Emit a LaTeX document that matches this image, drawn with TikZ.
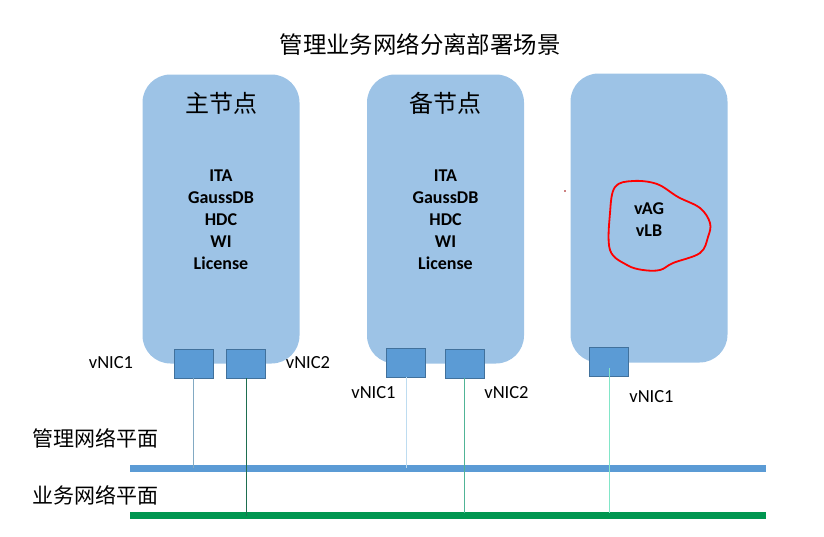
\documentclass[tikz,border=0pt]{standalone}
\usepackage{fontspec}
\setmainfont{Carlito}
\newfontfamily\cjk{Noto Sans CJK SC}
\usepackage{xcolor}
\usepackage{tikz}
\usetikzlibrary{positioning}
\definecolor{vmfill}{RGB}{157,195,230}
\definecolor{nicfill}{RGB}{91,155,213}
\definecolor{nicdraw}{RGB}{65,113,156}
\definecolor{mgmtbus}{RGB}{91,155,213}
\definecolor{svcbus}{RGB}{0,150,80}
\definecolor{linkA}{RGB}{130,170,195}
\definecolor{linkB}{RGB}{30,110,80}
\definecolor{linkC}{RGB}{190,220,240}
\definecolor{linkD}{RGB}{80,180,150}
\definecolor{linkE}{RGB}{130,230,200}
\tikzstyle{vm} = [rounded corners=28pt, fill=vmfill, minimum width=157pt, minimum height=289pt, inner sep=0pt]
\tikzstyle{nic} = [fill=nicfill, draw=nicdraw, line width=0.8pt, minimum width=39pt, minimum height=29pt, inner sep=0pt]
\tikzstyle{niclabel} = [font=\fontsize{18.5}{22}\selectfont]
\tikzstyle{vmtitle} = [font=\cjk\fontsize{24}{28}\selectfont]
\tikzstyle{svc} = [font=\fontsize{18}{22}\selectfont\bfseries, align=center]
\tikzstyle{plane} = [font=\cjk\fontsize{21}{24}\selectfont]
\tikzstyle{bus} = [line width=7pt]
\tikzstyle{link} = [line width=0.8pt]

\begin{document}
\begin{tikzpicture}[x=1pt, y=-1pt]
    \useasboundingbox (0,0) rectangle (824,536);
    \node[font=\cjk\fontsize{23.4}{28}\selectfont] (title) at (420,44) {管理业务网络分离部署场景};

    % the three virtual machines
    \node[vm] (vm1) at (221,219) {};
    \node[vm] (vm2) at (445.5,219) {};
    \node[vm] (vm3) at (649,218) {};
    \node[vmtitle] (t1) at (221,103) {主节点};
    \node[vmtitle] (t2) at (445.5,103) {备节点};
    \node[svc] (s1) at (221,220) {ITA\\GaussDB\\HDC\\WI\\License};
    \node[svc] (s2) at (445.5,220) {ITA\\GaussDB\\HDC\\WI\\License};
    \node[svc] (s3) at (649,219.5) {vAG\\vLB};
    \draw[red, line width=1.8pt] plot[smooth cycle, tension=0.6] coordinates {
        (633,181) (657,184) (678,197) (700,208) (710,223) (708,237) (700,253)
        (673,263) (660,270) (643,270) (627,265) (610,250) (610,213) (615,187)};
    \fill[red!60!black] (565,191) circle (0.9);

    % network cards
    \node[nic] (nic11) at (193.5,363.5) {};
    \node[nic] (nic12) at (246,363.5) {};
    \node[nic] (nic21) at (406,362.5) {};
    \node[nic] (nic22) at (464.5,363.5) {};
    \node[nic] (nic31) at (609,362) {};
    \node[niclabel] (l11) at (111,363) {vNIC1};
    \node[niclabel] (l12) at (308,363) {vNIC2};
    \node[niclabel] (l21) at (373.5,393) {vNIC1};
    \node[niclabel] (l22) at (506.5,393) {vNIC2};
    \node[niclabel] (l31) at (651.5,397) {vNIC1};

    % planes
    \node[plane] (p1) at (95,438) {管理网络平面};
    \node[plane] (p2) at (95,495) {业务网络平面};
    \coordinate (mgmtL) at (130,468);
    \coordinate (mgmtR) at (766,468);
    \coordinate (svcL) at (130,515.5);
    \coordinate (svcR) at (766,515.5);
    \draw[bus, mgmtbus] (mgmtL) -- (mgmtR);
    \draw[bus, svcbus] (svcL) -- (svcR);

    \draw[link, linkA] (nic11.south) -- (nic11.south |- mgmtL);
    \draw[link, linkB] (nic12.south) -- (nic12.south |- svcL);
    \draw[link, linkC] (nic21.south) -- (nic21.south |- mgmtL);
    \draw[link, linkD] (nic22.south) -- ([yshift=3pt]nic22.south |- svcL);
    \draw[link, linkE] ([yshift=-6pt]nic31.center) -- ([yshift=3pt]nic31.center |- svcL);
\end{tikzpicture}
\end{document}
